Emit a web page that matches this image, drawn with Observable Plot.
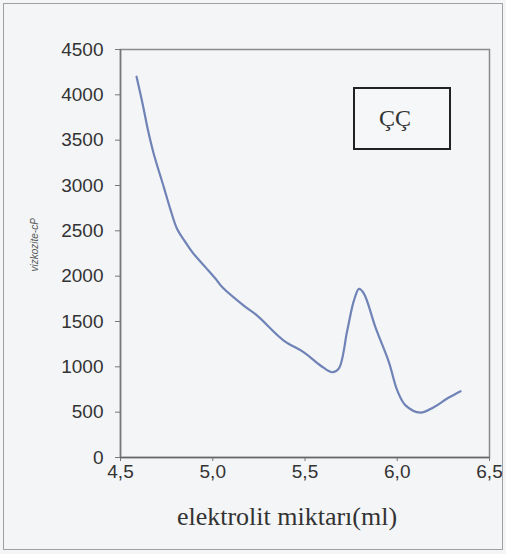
<!DOCTYPE html>
<html>
<head>
<meta charset="utf-8">
<script src="https://cdn.jsdelivr.net/npm/d3@7"></script>
<script src="https://cdn.jsdelivr.net/npm/@observablehq/plot@0.6"></script>
<style>
  html, body { margin: 0; padding: 0; background: #f3f5f7; }
  #wrap { position: relative; width: 506px; height: 554px; }
  #border { position: absolute; left: 3px; top: 3px; width: 500px; height: 547px; border: 1.5px solid #a0a0a0; box-sizing: border-box; pointer-events: none; }
  #legend { position: absolute; left: 353px; top: 87px; width: 98px; height: 63px; box-sizing: border-box; border: 2px solid #222; background: #f6f7f9; font-family: "Liberation Serif", "DejaVu Serif", serif; font-size: 24px; color: #333; display: flex; align-items: center; justify-content: center; padding-right: 14px; }
</style>
</head>
<body>
<div id="wrap"><div id="border"></div></div>
<script>
const xValues = [4.587, 4.620, 4.650, 4.680, 4.735, 4.770, 4.807, 4.850, 4.889, 4.960, 5.024, 5.051, 5.168, 5.241, 5.385, 5.494, 5.584, 5.647, 5.683, 5.729, 5.765, 5.793, 5.820, 5.882, 5.955, 6.000, 6.045, 6.126, 6.198, 6.271, 6.343];
const yValues = [4200, 3900, 3600, 3350, 2980, 2740, 2520, 2380, 2265, 2100, 1950, 1880, 1675, 1565, 1290, 1160, 1015, 940, 980, 1400, 1730, 1860, 1805, 1435, 1050, 740, 575, 495, 555, 650, 730];
const xTicks = [4.5, 5.0, 5.5, 6.0, 6.5];
const yTicks = [0, 500, 1000, 1500, 2000, 2500, 3000, 3500, 4000, 4500];
const xLabel = "elektrolit miktarı(ml)";
const yLabel = "vizkozite-cP";
const legendLabel = "ÇÇ";

const data = xValues.map((x, i) => ({x, y: yValues[i]}));
const fmtX = d => d3.format(".1f")(d).replace(".", ",");
const fmtY = d => d3.format("d")(d);

const chart = Plot.plot({
  width: 506,
  height: 554,
  marginLeft: 120,
  marginRight: 17,
  marginTop: 49,
  marginBottom: 97,
  style: {background: "transparent", fontFamily: "'Liberation Sans', Arial, sans-serif", fontSize: "19px", color: "#333"},
  x: {domain: [4.5, 6.5], label: null},
  y: {domain: [0, 4500], label: null},
  marks: [
    Plot.frame({stroke: "#8a8a8a", strokeWidth: 1.5}),
    Plot.axisX({ticks: xTicks, tickFormat: fmtX, tickSize: 4, tickPadding: 3, fontSize: 19, fill: "#333", stroke: "#777", label: null}),
    Plot.axisY({ticks: yTicks, tickFormat: fmtY, tickSize: 5, tickPadding: 12, fontSize: 19, fill: "#333", stroke: "#777", label: null}),
    Plot.ruleY([0], {stroke: "#666", strokeWidth: 1.5}),
    Plot.ruleX([4.5], {stroke: "#777", strokeWidth: 1.5}),
    Plot.line(data, {x: "x", y: "y", stroke: "#7083b6", strokeWidth: 2.2, curve: "catmull-rom"}),
    Plot.text([xLabel], {text: d => d, frameAnchor: "bottom", dx: -18, dy: 67, fontSize: 26, fontFamily: "'Liberation Serif', 'DejaVu Serif', serif", fill: "#333"}),
    Plot.text([yLabel], {text: d => d, frameAnchor: "left", dx: -86, dy: 18, rotate: -90, fontSize: 10, fontStyle: "italic", fill: "#555"})
  ]
});
const wrap = document.getElementById("wrap");
wrap.insertBefore(chart, wrap.firstChild);
const legend = document.createElement("div");
legend.id = "legend";
legend.textContent = legendLabel;
wrap.appendChild(legend);
</script>
</body>
</html>
